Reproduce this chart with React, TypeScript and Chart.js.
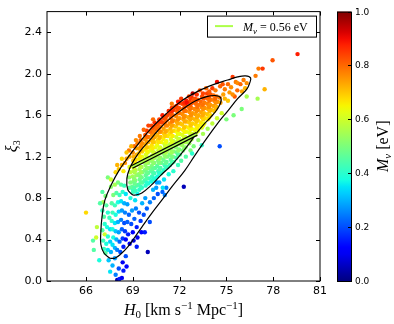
import React, { useEffect, useRef } from 'react';
import { Chart, registerables } from 'chart.js';

Chart.register(...registerables);

// ---------- axes / ticks ----------
const xRange = [63.5, 81];
const yRange = [0, 2.6];
const xTicks = [66, 69, 72, 75, 78, 81];
const yTicks = [0, 0.4, 0.8, 1.2, 1.6, 2.0, 2.4];
const colorbarTicks = [0, 0.2, 0.4, 0.6, 0.8, 1.0];

// ---------- fixed-mass line (M_nu = 0.56 eV) ----------
const lineMnu = 0.56;
const lineH0 = [68.94, 73.1];
const lineXi = [1.1, 1.42];

// ---------- 95% contour ----------
const outerH0 = [67.53, 67.15, 66.95, 66.95, 67.02, 67.21, 67.66, 68.11, 68.68, 69.39, 70.22, 71.11, 72.14, 73.16, 74.25, 75.08, 75.72, 76.23, 76.55, 76.49, 76.3, 75.72, 75.08, 74.38, 73.61, 72.97, 72.33, 71.56, 70.86, 70.15, 69.58, 69.07, 68.68, 68.23, 67.85, 67.53];
const outerXi = [0.22, 0.27, 0.355, 0.47, 0.61, 0.78, 0.94, 1.065, 1.19, 1.33, 1.48, 1.61, 1.74, 1.83, 1.9, 1.94, 1.97, 1.98, 1.96, 1.91, 1.85, 1.76, 1.64, 1.51, 1.35, 1.21, 1.065, 0.92, 0.78, 0.64, 0.52, 0.41, 0.33, 0.26, 0.22, 0.22];

// ---------- 68% contour ----------
const innerH0 = [69.0, 68.68, 68.62, 68.81, 69.13, 69.51, 70.03, 70.6, 71.18, 71.75, 72.39, 73.03, 73.74, 74.31, 74.63, 74.63, 74.38, 73.99, 73.54, 73.1, 72.59, 72.01, 71.43, 70.79, 70.15, 69.58, 69.19, 69.0];
const innerXi = [0.83, 0.88, 0.99, 1.09, 1.18, 1.26, 1.35, 1.45, 1.54, 1.61, 1.68, 1.74, 1.78, 1.79, 1.77, 1.72, 1.65, 1.58, 1.51, 1.43, 1.32, 1.21, 1.11, 1.02, 0.92, 0.85, 0.83, 0.83];

// ---------- samples: [H0, xi3, M_nu] ----------
const tailPoints: [number, number, number][] = [
  [67.05, 0.86, 0.45], [67.25, 0.82, 0.5], [67.1, 0.76, 0.55], [67.3, 0.73, 0.45], [67.05, 0.68, 0.42], [67.4, 0.66, 0.4], [67.15, 0.62, 0.45], [67.5, 0.61, 0.42], [67.2, 0.55, 0.4], [67.35, 0.52, 0.38], [67.05, 0.49, 0.45], [67.55, 0.5, 0.35], [67.2, 0.45, 0.6], [67.4, 0.43, 0.4], [67.1, 0.39, 0.42], [67.3, 0.36, 0.38], [67.55, 0.38, 0.33], [67.15, 0.31, 0.42], [67.4, 0.3, 0.35], [67.25, 0.27, 0.45], [67.6, 0.28, 0.3],
  [67.45, 0.2, 0.32], [67.7, 0.15, 0.3], [67.55, 0.09, 0.35], [67.9, 0.06, 0.25], [68.0, 0.01, 0.05], [68.15, 0.02, 0.15], [68.3, 0.03, 0.1], [67.85, 0.22, 0.28], [68.1, 0.12, 0.2], [68.4, 0.1, 0.15], [68.35, 0.18, 0.1], [68.6, 0.14, 0.12], [68.55, 0.24, 0.2], [66.85, 0.2, 0.38], [66.5, 0.3, 0.45], [66.45, 0.39, 0.45], [66.65, 0.42, 0.6], [66.0, 0.66, 0.68], [66.9, 0.75, 0.45], [66.7, 0.52, 0.58],
  [67.7, 0.35, 0.35], [67.85, 0.32, 0.3], [68.0, 0.3, 0.25], [68.2, 0.28, 0.2], [68.4, 0.33, 0.15], [67.75, 0.42, 0.38], [67.95, 0.4, 0.3], [68.15, 0.38, 0.22], [68.35, 0.41, 0.18], [68.55, 0.4, 0.12], [67.7, 0.5, 0.38], [67.9, 0.48, 0.32], [68.1, 0.47, 0.28], [68.3, 0.5, 0.22], [68.5, 0.48, 0.18], [68.7, 0.45, 0.15], [67.65, 0.58, 0.4], [67.85, 0.56, 0.35], [68.05, 0.57, 0.3], [68.25, 0.59, 0.25], [68.45, 0.56, 0.2], [68.65, 0.57, 0.22], [67.7, 0.66, 0.42], [67.9, 0.64, 0.38], [68.1, 0.67, 0.33], [68.3, 0.68, 0.28], [68.5, 0.66, 0.25], [68.75, 0.64, 0.22], [67.65, 0.75, 0.45], [67.85, 0.73, 0.42], [68.05, 0.76, 0.38], [68.25, 0.77, 0.35], [68.45, 0.75, 0.3], [68.65, 0.74, 0.28], [67.75, 0.83, 0.5], [67.95, 0.85, 0.45], [68.15, 0.83, 0.42], [68.35, 0.86, 0.4], [68.55, 0.84, 0.35], [67.6, 0.91, 0.52], [67.85, 0.93, 0.55], [68.05, 0.95, 0.5], [68.25, 0.93, 0.45], [68.45, 0.92, 0.42],
  [68.9, 0.55, 0.2], [69.1, 0.6, 0.22], [68.95, 0.68, 0.28], [69.2, 0.7, 0.25], [69.4, 0.66, 0.2], [69.0, 0.47, 0.12], [69.25, 0.52, 0.15], [69.5, 0.58, 0.18], [69.7, 0.64, 0.2], [69.3, 0.42, 0.1], [69.55, 0.47, 0.12], [68.8, 0.36, 0.1], [69.05, 0.39, 0.08], [69.25, 0.33, 0.15], [69.96, 0.28, 0.05], [69.77, 0.47, 0.15], [70.09, 0.57, 0.2], [69.9, 0.7, 0.22], [69.6, 0.75, 0.3], [69.15, 0.78, 0.35], [68.85, 0.8, 0.38], [69.0, 0.88, 0.42], [69.3, 0.84, 0.36], [69.8, 0.8, 0.28], [70.1, 0.76, 0.25], [70.35, 0.8, 0.22], [70.6, 0.84, 0.2], [70.9, 0.86, 0.22], [71.15, 0.9, 0.25], [70.5, 0.9, 0.28], [72.27, 0.91, 0.05],
  [67.4, 1.0, 0.5], [67.6, 0.98, 0.6], [67.9, 1.05, 0.68], [68.0, 1.12, 0.72],
];

const coreLeftPoints: [number, number, number][] = [
  [68.78, 0.9, 0.45], [68.84, 0.95, 0.5], [68.76, 1.0, 0.52], [68.83, 1.05, 0.58], [68.79, 1.1, 0.62],
  [69.02, 0.86, 0.42], [68.96, 0.91, 0.47], [69.05, 0.96, 0.5], [68.98, 1.01, 0.55], [69.04, 1.06, 0.58], [68.97, 1.11, 0.65], [69.03, 1.16, 0.7],
  [69.18, 0.87, 0.42], [69.24, 0.92, 0.46], [69.16, 0.97, 0.5], [69.23, 1.02, 0.53], [69.17, 1.07, 0.57], [69.22, 1.12, 0.62], [69.19, 1.17, 0.68], [69.25, 1.22, 0.72],
  [69.42, 0.88, 0.4], [69.37, 0.93, 0.45], [69.44, 0.98, 0.48], [69.38, 1.03, 0.52], [69.43, 1.08, 0.55], [69.36, 1.13, 0.6], [69.41, 1.18, 0.66], [69.39, 1.23, 0.7], [69.44, 1.28, 0.74],
  [69.58, 0.9, 0.4], [69.63, 0.95, 0.44], [69.57, 1.0, 0.48], [69.62, 1.05, 0.5], [69.56, 1.1, 0.55], [69.64, 1.15, 0.58], [69.59, 1.2, 0.63], [69.61, 1.25, 0.68], [69.57, 1.3, 0.72],
  [69.82, 0.92, 0.4], [69.77, 0.97, 0.44], [69.83, 1.02, 0.47], [69.78, 1.07, 0.5], [69.81, 1.12, 0.53], [69.76, 1.17, 0.58], [69.84, 1.22, 0.62], [69.79, 1.27, 0.67], [69.82, 1.32, 0.72], [69.77, 1.37, 0.76],
  [69.98, 0.94, 0.38], [70.03, 0.99, 0.42], [69.97, 1.04, 0.46], [70.04, 1.09, 0.5], [69.99, 1.14, 0.53], [70.02, 1.19, 0.57], [69.96, 1.24, 0.62], [70.03, 1.29, 0.67], [69.98, 1.34, 0.72], [70.02, 1.39, 0.77],
];

const coreMidPoints: [number, number, number][] = [
  [70.18, 0.96, 0.38], [70.23, 1.01, 0.42], [70.17, 1.06, 0.46], [70.22, 1.11, 0.5], [70.19, 1.16, 0.53], [70.24, 1.21, 0.57], [70.16, 1.26, 0.62], [70.21, 1.31, 0.67], [70.18, 1.36, 0.72], [70.23, 1.41, 0.76], [70.2, 1.46, 0.8],
  [70.42, 0.99, 0.38], [70.37, 1.04, 0.42], [70.43, 1.09, 0.46], [70.38, 1.14, 0.5], [70.41, 1.19, 0.54], [70.36, 1.24, 0.58], [70.44, 1.29, 0.63], [70.39, 1.34, 0.68], [70.42, 1.39, 0.72], [70.37, 1.44, 0.77], [70.41, 1.49, 0.82],
  [70.58, 1.01, 0.38], [70.63, 1.06, 0.42], [70.57, 1.11, 0.46], [70.62, 1.16, 0.5], [70.59, 1.21, 0.55], [70.64, 1.26, 0.6], [70.56, 1.31, 0.64], [70.61, 1.36, 0.68], [70.58, 1.41, 0.72], [70.63, 1.46, 0.77], [70.6, 1.51, 0.82],
  [70.82, 1.04, 0.4], [70.77, 1.09, 0.44], [70.83, 1.14, 0.48], [70.78, 1.19, 0.52], [70.81, 1.24, 0.56], [70.76, 1.29, 0.6], [70.84, 1.34, 0.65], [70.79, 1.39, 0.7], [70.82, 1.44, 0.74], [70.77, 1.49, 0.78], [70.8, 1.54, 0.83],
  [70.98, 1.07, 0.4], [71.03, 1.12, 0.44], [70.97, 1.17, 0.48], [71.02, 1.22, 0.52], [70.99, 1.27, 0.56], [71.04, 1.32, 0.6], [70.96, 1.37, 0.66], [71.01, 1.42, 0.7], [70.98, 1.47, 0.74], [71.03, 1.52, 0.78], [71.0, 1.57, 0.84],
  [71.22, 1.1, 0.42], [71.17, 1.15, 0.46], [71.23, 1.2, 0.5], [71.18, 1.25, 0.54], [71.21, 1.3, 0.58], [71.16, 1.35, 0.62], [71.24, 1.4, 0.67], [71.19, 1.45, 0.71], [71.22, 1.5, 0.75], [71.17, 1.55, 0.79], [71.2, 1.6, 0.84],
  [71.38, 1.12, 0.42], [71.43, 1.17, 0.46], [71.37, 1.22, 0.5], [71.42, 1.27, 0.54], [71.39, 1.32, 0.58], [71.44, 1.37, 0.62], [71.36, 1.42, 0.67], [71.41, 1.47, 0.72], [71.38, 1.52, 0.76], [71.43, 1.57, 0.8], [71.4, 1.62, 0.85],
  [71.62, 1.15, 0.44], [71.57, 1.2, 0.48], [71.63, 1.25, 0.52], [71.58, 1.3, 0.56], [71.61, 1.35, 0.6], [71.56, 1.4, 0.64], [71.64, 1.45, 0.68], [71.59, 1.5, 0.72], [71.62, 1.55, 0.76], [71.57, 1.6, 0.8], [71.6, 1.65, 0.85],
  [71.78, 1.19, 0.44], [71.83, 1.24, 0.48], [71.77, 1.29, 0.52], [71.82, 1.34, 0.56], [71.79, 1.39, 0.6], [71.84, 1.44, 0.65], [71.76, 1.49, 0.7], [71.81, 1.54, 0.74], [71.78, 1.59, 0.77], [71.83, 1.64, 0.8], [71.8, 1.69, 0.86],
  [72.02, 1.22, 0.46], [71.97, 1.27, 0.5], [72.03, 1.32, 0.54], [71.98, 1.37, 0.58], [72.01, 1.42, 0.62], [71.96, 1.47, 0.67], [72.04, 1.52, 0.71], [71.99, 1.57, 0.75], [72.02, 1.62, 0.78], [71.97, 1.67, 0.82], [72.0, 1.72, 0.87],
];

const coreRightPoints: [number, number, number][] = [
  [72.22, 1.26, 0.5], [72.17, 1.31, 0.54], [72.23, 1.36, 0.58], [72.18, 1.41, 0.62], [72.21, 1.46, 0.66], [72.16, 1.51, 0.7], [72.24, 1.56, 0.73], [72.19, 1.61, 0.76], [72.22, 1.66, 0.8], [72.17, 1.71, 0.84],
  [72.38, 1.29, 0.52], [72.43, 1.34, 0.56], [72.37, 1.39, 0.6], [72.42, 1.44, 0.64], [72.39, 1.49, 0.68], [72.44, 1.54, 0.72], [72.36, 1.59, 0.75], [72.41, 1.64, 0.78], [72.38, 1.69, 0.82], [72.43, 1.74, 0.88],
  [72.62, 1.33, 0.54], [72.57, 1.38, 0.58], [72.63, 1.43, 0.62], [72.58, 1.48, 0.66], [72.61, 1.53, 0.7], [72.56, 1.58, 0.73], [72.64, 1.63, 0.76], [72.59, 1.68, 0.79], [72.62, 1.73, 0.84],
  [72.78, 1.37, 0.56], [72.83, 1.42, 0.6], [72.77, 1.47, 0.65], [72.82, 1.52, 0.69], [72.79, 1.57, 0.72], [72.84, 1.62, 0.75], [72.76, 1.67, 0.78], [72.81, 1.72, 0.82], [72.78, 1.77, 0.86],
  [73.02, 1.41, 0.6], [72.97, 1.46, 0.64], [73.03, 1.51, 0.68], [72.98, 1.56, 0.72], [73.01, 1.61, 0.74], [72.96, 1.66, 0.77], [73.04, 1.71, 0.8], [72.99, 1.76, 0.84],
  [73.18, 1.45, 0.62], [73.23, 1.5, 0.66], [73.17, 1.55, 0.7], [73.22, 1.6, 0.73], [73.19, 1.65, 0.76], [73.24, 1.7, 0.79], [73.16, 1.75, 0.82],
  [73.42, 1.48, 0.62], [73.37, 1.53, 0.67], [73.43, 1.58, 0.71], [73.38, 1.63, 0.74], [73.41, 1.68, 0.77], [73.36, 1.73, 0.8], [73.44, 1.78, 0.83],
  [73.58, 1.52, 0.64], [73.63, 1.57, 0.68], [73.57, 1.62, 0.72], [73.62, 1.67, 0.75], [73.59, 1.72, 0.78], [73.64, 1.77, 0.81],
  [73.82, 1.56, 0.66], [73.77, 1.61, 0.7], [73.83, 1.66, 0.74], [73.78, 1.71, 0.77], [73.81, 1.76, 0.8], [73.76, 1.81, 0.84],
  [73.98, 1.6, 0.68], [74.03, 1.65, 0.72], [73.97, 1.7, 0.75], [74.02, 1.75, 0.78], [73.99, 1.8, 0.82],
  [74.22, 1.64, 0.7], [74.17, 1.69, 0.74], [74.23, 1.74, 0.77], [74.18, 1.79, 0.8],
  [74.38, 1.68, 0.72], [74.43, 1.73, 0.76], [74.37, 1.78, 0.79],
  [74.62, 1.72, 0.74], [74.57, 1.77, 0.78],
];

const coreFillPoints: [number, number, number][] = [
  [69.1, 0.9, 0.44], [69.12, 0.94, 0.48], [69.08, 0.99, 0.52], [69.11, 1.05, 0.56], [69.09, 1.09, 0.6], [69.13, 1.14, 0.66], [69.07, 1.2, 0.72],
  [69.5, 0.91, 0.42], [69.52, 0.95, 0.46], [69.48, 1.01, 0.5], [69.51, 1.05, 0.54], [69.49, 1.1, 0.57], [69.53, 1.16, 0.62], [69.47, 1.2, 0.66], [69.5, 1.26, 0.72], [69.52, 1.3, 0.76],
  [69.9, 0.95, 0.4], [69.88, 0.99, 0.45], [69.92, 1.05, 0.48], [69.89, 1.09, 0.52], [69.91, 1.15, 0.56], [69.87, 1.19, 0.6], [69.93, 1.25, 0.65], [69.9, 1.29, 0.7], [69.88, 1.35, 0.75], [69.92, 1.39, 0.79],
  [70.3, 0.98, 0.4], [70.32, 1.04, 0.44], [70.28, 1.08, 0.47], [70.31, 1.14, 0.52], [70.29, 1.18, 0.55], [70.33, 1.24, 0.6], [70.27, 1.28, 0.66], [70.3, 1.34, 0.7], [70.32, 1.38, 0.74], [70.28, 1.44, 0.78], [70.31, 1.48, 0.83],
  [70.7, 1.04, 0.4], [70.72, 1.08, 0.45], [70.68, 1.14, 0.5], [70.71, 1.18, 0.53], [70.69, 1.24, 0.58], [70.73, 1.28, 0.62], [70.67, 1.34, 0.67], [70.7, 1.38, 0.72], [70.72, 1.44, 0.76], [70.68, 1.48, 0.8], [70.71, 1.54, 0.86],
  [71.1, 1.1, 0.42], [71.12, 1.14, 0.47], [71.08, 1.2, 0.52], [71.11, 1.24, 0.56], [71.09, 1.3, 0.6], [71.13, 1.34, 0.64], [71.07, 1.4, 0.69], [71.1, 1.44, 0.73], [71.12, 1.5, 0.77], [71.08, 1.54, 0.81],
  [71.5, 1.14, 0.44], [71.52, 1.2, 0.5], [71.48, 1.24, 0.54], [71.51, 1.3, 0.58], [71.49, 1.34, 0.62], [71.53, 1.4, 0.66], [71.47, 1.44, 0.7], [71.5, 1.5, 0.74], [71.52, 1.54, 0.78], [71.48, 1.6, 0.82], [71.51, 1.64, 0.87],
  [71.9, 1.22, 0.46], [71.92, 1.26, 0.52], [71.88, 1.32, 0.56], [71.91, 1.36, 0.6], [71.89, 1.42, 0.64], [71.93, 1.46, 0.69], [71.87, 1.52, 0.73], [71.9, 1.56, 0.76], [71.92, 1.62, 0.79], [71.88, 1.66, 0.83],
  [72.3, 1.28, 0.52], [72.32, 1.34, 0.56], [72.28, 1.38, 0.6], [72.31, 1.44, 0.65], [72.29, 1.48, 0.7], [72.33, 1.54, 0.73], [72.27, 1.58, 0.76], [72.3, 1.64, 0.79], [72.32, 1.68, 0.83],
  [72.7, 1.36, 0.56], [72.72, 1.4, 0.6], [72.68, 1.46, 0.65], [72.71, 1.5, 0.7], [72.69, 1.56, 0.73], [72.73, 1.6, 0.76], [72.67, 1.66, 0.79], [72.7, 1.7, 0.82], [72.72, 1.76, 0.86],
  [73.1, 1.44, 0.62], [73.12, 1.48, 0.66], [73.08, 1.54, 0.7], [73.11, 1.58, 0.73], [73.09, 1.64, 0.76], [73.13, 1.68, 0.79], [73.07, 1.74, 0.82],
  [73.5, 1.5, 0.65], [73.52, 1.56, 0.69], [73.48, 1.6, 0.73], [73.51, 1.66, 0.76], [73.49, 1.7, 0.79], [73.53, 1.76, 0.82],
  [73.9, 1.58, 0.68], [73.92, 1.64, 0.72], [73.88, 1.68, 0.76], [73.91, 1.74, 0.79], [73.89, 1.78, 0.82],
  [74.3, 1.66, 0.72], [74.32, 1.72, 0.76], [74.28, 1.76, 0.8],
];

const upperEdgePoints: [number, number, number][] = [
  [68.1, 1.08, 0.7], [68.3, 1.12, 0.72], [68.5, 1.14, 0.75], [68.4, 1.06, 0.66], [68.6, 1.18, 0.74], [68.8, 1.2, 0.72], [68.75, 1.26, 0.78], [69.0, 1.24, 0.76], [69.1, 1.3, 0.8], [69.3, 1.33, 0.78], [69.25, 1.28, 0.74], [69.5, 1.36, 0.8], [69.6, 1.33, 0.76], [69.8, 1.41, 0.82], [69.9, 1.45, 0.85], [70.1, 1.44, 0.8], [70.2, 1.5, 0.84], [70.4, 1.53, 0.86], [70.5, 1.47, 0.8], [70.7, 1.56, 0.85], [70.86, 1.53, 0.84], [70.9, 1.6, 0.88], [71.1, 1.58, 0.83], [71.3, 1.64, 0.86], [71.5, 1.67, 0.85], [71.5, 1.71, 0.78], [71.7, 1.68, 0.84], [71.9, 1.73, 0.88], [72.1, 1.76, 0.85], [72.3, 1.72, 0.87], [72.46, 1.72, 0.9], [72.84, 1.81, 0.95], [72.6, 1.78, 0.84], [72.9, 1.75, 0.82], [73.1, 1.8, 0.86], [73.3, 1.84, 0.82], [73.5, 1.81, 0.84], [73.7, 1.86, 0.8], [73.9, 1.83, 0.82], [74.1, 1.86, 0.85], [74.4, 1.92, 0.9], [74.3, 1.84, 0.78], [74.6, 1.88, 0.8], [74.76, 1.9, 0.82], [74.9, 1.85, 0.78], [75.1, 1.9, 0.8], [75.4, 1.97, 0.85], [75.3, 1.87, 0.76], [75.53, 1.78, 0.82], [75.6, 1.92, 0.78], [75.72, 1.91, 0.76], [76.0, 1.83, 0.74], [75.9, 1.9, 0.8], [76.1, 1.94, 0.78], [76.3, 1.91, 0.76], [76.2, 1.86, 0.72], [75.7, 1.84, 0.8], [75.2, 1.82, 0.75], [74.8, 1.8, 0.74], [74.9, 1.76, 0.72], [75.1, 1.74, 0.7], [75.4, 1.8, 0.76],
  [68.9, 1.3, 0.72], [69.2, 1.36, 0.76], [69.45, 1.4, 0.78], [69.7, 1.46, 0.8], [68.6, 1.24, 0.7], [70.0, 1.5, 0.84], [70.3, 1.56, 0.8], [68.3, 1.18, 0.68],
];

const lowerEdgePoints: [number, number, number][] = [
  [70.3, 0.88, 0.3], [70.7, 0.95, 0.3], [71.0, 0.98, 0.35], [71.3, 1.03, 0.38], [71.6, 1.06, 0.4], [71.9, 1.12, 0.42], [72.1, 1.16, 0.45], [72.4, 1.2, 0.45], [72.7, 1.26, 0.5], [72.9, 1.3, 0.5], [73.2, 1.36, 0.52], [73.5, 1.42, 0.55], [73.8, 1.47, 0.55], [74.1, 1.52, 0.58], [74.4, 1.57, 0.6], [74.7, 1.62, 0.6], [75.0, 1.56, 0.5], [75.46, 1.6, 0.5], [75.98, 1.66, 0.5], [76.3, 1.78, 0.55], [77.0, 1.76, 0.55], [74.57, 1.3, 0.2], [73.42, 1.31, 0.4], [70.92, 0.9, 0.35], [70.54, 0.95, 0.28], [71.05, 0.83, 0.25], [72.8, 1.23, 0.4],
];

const farPoints: [number, number, number][] = [
  [79.56, 2.19, 0.88], [77.96, 2.13, 0.82], [77.06, 2.05, 0.78], [77.32, 2.05, 0.85], [76.87, 1.98, 0.78], [77.45, 1.85, 0.72],
];

// ---------- colormap (matplotlib jet) ----------
const JET_R = [[0, 0], [0.35, 0], [0.66, 1], [0.89, 1], [1, 0.5]];
const JET_G = [[0, 0], [0.125, 0], [0.375, 1], [0.64, 1], [0.91, 0], [1, 0]];
const JET_B = [[0, 0.5], [0.11, 1], [0.34, 1], [0.65, 0], [1, 0]];
function seg(p: number[][], v: number) {
  for (let i = 1; i < p.length; i++) {
    if (v <= p[i][0]) {
      const t = (v - p[i - 1][0]) / (p[i][0] - p[i - 1][0]);
      return p[i - 1][1] + t * (p[i][1] - p[i - 1][1]);
    }
  }
  return p[p.length - 1][1];
}
function jet(v: number) {
  const c = Math.max(0, Math.min(1, v));
  return `rgb(${Math.round(seg(JET_R, c) * 255)},${Math.round(seg(JET_G, c) * 255)},${Math.round(seg(JET_B, c) * 255)})`;
}

type Seg = { t: string; f: string; dy?: number };
function richWidth(ctx: CanvasRenderingContext2D, segs: Seg[]) {
  let w = 0;
  for (const s of segs) { ctx.font = s.f; w += ctx.measureText(s.t).width; }
  return w;
}
function drawRich(ctx: CanvasRenderingContext2D, segs: Seg[], x: number, y: number, align: 'left' | 'center') {
  const w = richWidth(ctx, segs);
  let cx = align === 'center' ? x - w / 2 : x;
  ctx.textAlign = 'left';
  ctx.textBaseline = 'alphabetic';
  for (const s of segs) {
    ctx.font = s.f;
    ctx.fillText(s.t, cx, y + (s.dy || 0));
    cx += ctx.measureText(s.t).width;
  }
}

const SERIF = '"Liberation Serif", "DejaVu Serif", serif';
const SANS = '"DejaVu Sans", sans-serif';

const decorPlugin = {
  id: 'decor',
  afterDraw(chart: any) {
    const { ctx, chartArea: a, scales } = chart;
    const xs = scales.x, ys = scales.y;
    ctx.save();
    ctx.fillStyle = '#000';
    ctx.strokeStyle = '#000';
    ctx.lineWidth = 1;
    ctx.strokeRect(a.left, a.top, a.right - a.left, a.bottom - a.top);
    ctx.beginPath();
    for (const v of xTicks) {
      const px = Math.round(xs.getPixelForValue(v)) + 0.5;
      ctx.moveTo(px, a.bottom); ctx.lineTo(px, a.bottom - 4);
      ctx.moveTo(px, a.top); ctx.lineTo(px, a.top + 4);
    }
    for (const v of yTicks) {
      const py = Math.round(ys.getPixelForValue(v)) + 0.5;
      ctx.moveTo(a.left, py); ctx.lineTo(a.left + 4, py);
      ctx.moveTo(a.right, py); ctx.lineTo(a.right - 4, py);
    }
    ctx.stroke();

    drawRich(ctx, [
      { t: 'H', f: `italic 16px ${SERIF}` },
      { t: '0', f: `11px ${SERIF}`, dy: 3 },
      { t: ' [km s', f: `16px ${SERIF}` },
      { t: '\u22121', f: `11px ${SERIF}`, dy: -6 },
      { t: ' Mpc', f: `16px ${SERIF}` },
      { t: '\u22121', f: `11px ${SERIF}`, dy: -6 },
      { t: ']', f: `16px ${SERIF}` },
    ], (a.left + a.right) / 2, 315, 'center');

    ctx.save();
    ctx.translate(17, (a.top + a.bottom) / 2);
    ctx.rotate(-Math.PI / 2);
    drawRich(ctx, [
      { t: '\u03BE', f: `italic 16px ${SERIF}` },
      { t: '3', f: `10px ${SERIF}`, dy: 3 },
    ], 0, 0, 'center');
    ctx.restore();

    const lx0 = a.right - 113, ly0 = a.top + 4, lw = 109, lh = 21;
    ctx.fillStyle = '#fff';
    ctx.fillRect(lx0, ly0, lw, lh);
    ctx.strokeStyle = '#000';
    ctx.strokeRect(lx0 + 0.5, ly0 + 0.5, lw, lh);
    ctx.strokeStyle = jet(lineMnu);
    ctx.lineWidth = 2;
    ctx.beginPath();
    ctx.moveTo(lx0 + 8, ly0 + 10.5); ctx.lineTo(lx0 + 26, ly0 + 10.5);
    ctx.stroke();
    ctx.fillStyle = '#000';
    drawRich(ctx, [
      { t: 'M', f: `italic 12px ${SERIF}` },
      { t: '\u03BD', f: `italic 9px ${SERIF}`, dy: 3 },
      { t: ' = 0.56 eV', f: `12px ${SERIF}` },
    ], lx0 + 36, ly0 + 15, 'left');

    const cbL = a.right + 17, cbW = 14, cbT = a.top, cbB = a.bottom;
    const grad = ctx.createLinearGradient(0, cbB, 0, cbT);
    for (let i = 0; i <= 40; i++) grad.addColorStop(i / 40, jet(i / 40));
    ctx.fillStyle = grad;
    ctx.fillRect(cbL, cbT, cbW, cbB - cbT);
    ctx.strokeStyle = '#000';
    ctx.lineWidth = 1;
    ctx.strokeRect(cbL + 0.5, cbT + 0.5, cbW, cbB - cbT);
    ctx.fillStyle = '#000';
    ctx.font = `9px ${SANS}`;
    ctx.textAlign = 'left';
    ctx.textBaseline = 'middle';
    ctx.beginPath();
    for (const v of colorbarTicks) {
      const py = Math.round(cbB - v * (cbB - cbT)) + 0.5;
      ctx.moveTo(cbL + cbW, py); ctx.lineTo(cbL + cbW - 3, py);
      ctx.fillText(v.toFixed(1), cbL + cbW + 4, py);
    }
    ctx.stroke();
    ctx.save();
    ctx.translate(cbL + cbW + 37, (cbT + cbB) / 2);
    ctx.rotate(-Math.PI / 2);
    drawRich(ctx, [
      { t: 'M', f: `italic 16px ${SERIF}` },
      { t: '\u03BD', f: `italic 11px ${SERIF}`, dy: 3 },
      { t: ' [eV]', f: `16px ${SERIF}` },
    ], 0, 0, 'center');
    ctx.restore();
    ctx.restore();
  },
};

export default function App() {
  const ref = useRef<HTMLCanvasElement | null>(null);
  useEffect(() => {
    if (!ref.current) return;
    const samples = [...tailPoints, ...coreLeftPoints, ...coreMidPoints, ...coreRightPoints, ...coreFillPoints, ...upperEdgePoints, ...lowerEdgePoints, ...farPoints];
    const pts = samples.map((p) => ({ x: p[0], y: p[1] }));
    const cols = samples.map((p) => jet(p[2]));
    const outer = outerH0.map((h, i) => ({ x: h, y: outerXi[i] }));
    const inner = innerH0.map((h, i) => ({ x: h, y: innerXi[i] }));
    const line = lineH0.map((h, i) => ({ x: h, y: lineXi[i] }));
    const chart = new Chart(ref.current, {
      type: 'scatter',
      data: {
        datasets: [
          { label: 'M_ν = 0.56 eV', data: line, showLine: true, borderColor: jet(lineMnu), borderWidth: 1.6, pointRadius: 0, order: 0 } as any,
          { label: 'outline', data: line, showLine: true, borderColor: '#000', borderWidth: 4, pointRadius: 0, order: 1 } as any,
          { label: '68%', data: inner, showLine: true, borderColor: '#000', borderWidth: 1.2, pointRadius: 0, tension: 0.4, order: 2 } as any,
          { label: '95%', data: outer, showLine: true, borderColor: '#000', borderWidth: 1.2, pointRadius: 0, tension: 0.4, order: 2 } as any,
          { label: 'samples', data: pts, backgroundColor: cols, borderWidth: 0, pointRadius: 2.2, order: 3 } as any,
        ],
      },
      options: {
        responsive: false,
        animation: false,
        devicePixelRatio: 1,
        layout: { padding: { left: 0, right: 74, top: 10, bottom: 0 } },
        plugins: { legend: { display: false }, tooltip: { enabled: false } },
        scales: {
          x: {
            type: 'linear', min: xRange[0], max: xRange[1],
            grid: { display: false, drawTicks: false },
            border: { display: false },
            afterBuildTicks: (s: any) => { s.ticks = xTicks.map((v) => ({ value: v })); },
            afterFit: (s: any) => { s.height = 43; },
            ticks: { padding: 4, color: '#000', font: { family: 'DejaVu Sans', size: 11 }, callback: (v: any) => String(v), maxRotation: 0, autoSkip: false },
          },
          y: {
            type: 'linear', min: yRange[0], max: yRange[1],
            grid: { display: false, drawTicks: false },
            border: { display: false },
            afterBuildTicks: (s: any) => { s.ticks = yTicks.map((v) => ({ value: v })); },
            afterFit: (s: any) => { s.width = 47; },
            ticks: { padding: 5, color: '#000', font: { family: 'DejaVu Sans', size: 11 }, callback: (v: any) => Number(v).toFixed(1), autoSkip: false },
          },
        },
      },
      plugins: [decorPlugin],
    });
    return () => chart.destroy();
  }, []);
  return (
    <div style={{ position: 'absolute', left: 0, top: 0, width: 394, height: 324, background: '#fff' }}>
      <canvas ref={ref} width={394} height={324} />
    </div>
  );
}
